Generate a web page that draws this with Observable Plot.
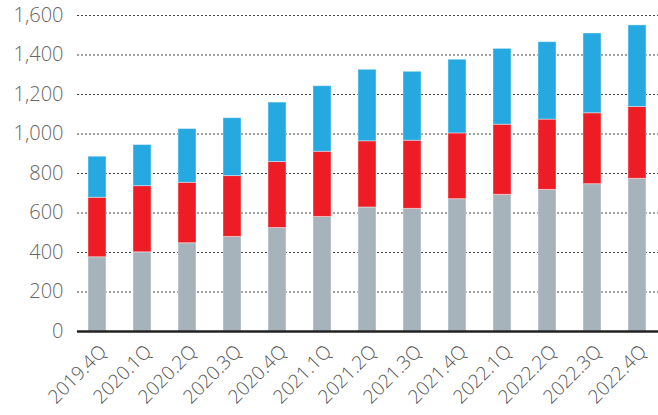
<!DOCTYPE html>
<html><head><meta charset="utf-8">
<script src="https://cdn.jsdelivr.net/npm/d3@7"></script>
<script src="https://cdn.jsdelivr.net/npm/@observablehq/plot@0.6"></script>
<style>body{margin:0;background:#fff}</style>
</head><body><div id="chart"></div>
<script>
const quarters = ["2019.4Q","2020.1Q","2020.2Q","2020.3Q","2020.4Q","2021.1Q","2021.2Q","2021.3Q","2021.4Q","2022.1Q","2022.2Q","2022.3Q","2022.4Q"];
const seriesNames = ["Series 1","Series 2","Series 3"];
const seriesColors = ["#a6b3bb","#ee1c25","#25a9e0"];
const series1 = [376, 401, 447, 479, 524, 580, 628, 621, 670, 692, 717, 746, 773];
const series2 = [301, 335, 306, 308, 334, 330, 335, 345, 333, 355, 356, 359, 364];
const series3 = [208, 208, 272, 293, 301, 332, 362, 349, 373, 384, 392, 404, 413];
const yTicks = [0,200,400,600,800,1000,1200,1400,1600];

const data = [];
const all = [series1, series2, series3];
quarters.forEach((q, i) => {
  all.forEach((s, k) => data.push({quarter: q, series: seriesNames[k], value: s[i]}));
});

const chart = Plot.plot({
  width: 658,
  height: 415,
  marginLeft: 77,
  marginRight: 0,
  marginTop: 15,
  marginBottom: 84,
  style: {fontFamily: "'Open Sans', sans-serif", fontSize: "20px", fontWeight: 300, background: "#fff"},
  x: {domain: quarters, paddingInner: 0.59, paddingOuter: 0.17, label: null, axis: null},
  y: {domain: [0, 1600], label: null},
  color: {domain: seriesNames, range: seriesColors},
  marks: [
    Plot.gridY(yTicks.filter(d => d > 0), {stroke: "#222", strokeOpacity: 0.85, strokeDasharray: "2,2", strokeWidth: 1}),
    Plot.barY(data, {x: "quarter", y: "value", fill: "series", stroke: "#fff", strokeOpacity: 0.4, strokeWidth: 1}),
    Plot.ruleY([0], {stroke: "#222", strokeWidth: 2.5}),
    Plot.axisY({ticks: yTicks, tickSize: 0, tickPadding: 14, tickFormat: d3.format(","), fill: "#666", fontSize: 20}),
    Plot.text(quarters, {x: d => d, text: d => d, frameAnchor: "bottom", rotate: -45, textAnchor: "end", lineAnchor: "middle", dx: 6, dy: 17, fill: "#555", fontSize: 19})
  ]
});
document.getElementById("chart").appendChild(chart);
</script>
</body></html>
